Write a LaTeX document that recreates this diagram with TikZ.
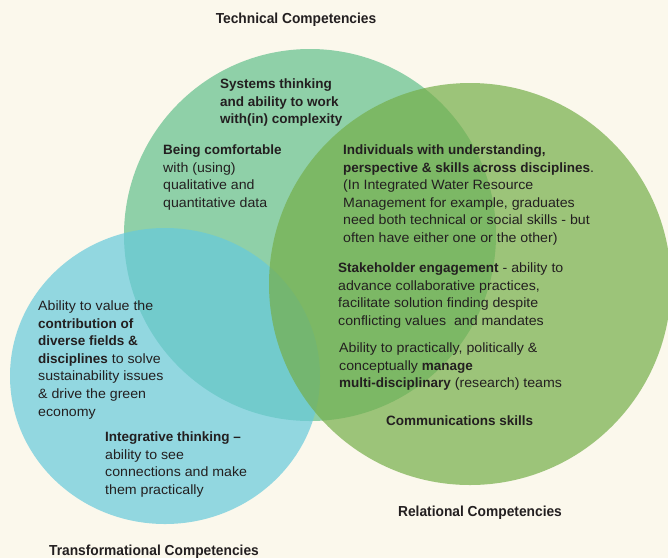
\documentclass[tikz,border=0pt]{standalone}
\usepackage{fontspec}
\setmainfont{Liberation Sans}[UprightFeatures={FakeStretch=1.05}]
\newfontfamily\headfont[FakeStretch=0.95]{Liberation Sans}

\definecolor{bgcream}{RGB}{251,248,236}
\definecolor{techgreen}{RGB}{143,208,168}
\definecolor{transblue}{RGB}{102,202,220}
\definecolor{relgreen}{RGB}{117,174,73}
\definecolor{inktext}{RGB}{35,31,32}

\tikzset{
  blurb/.style={anchor=north west, align=left, inner sep=0pt, text=inktext,
    font=\fontsize{13.5}{17.6}\selectfont},
  heading/.style={inner sep=0pt, text=inktext,
    font=\headfont\bfseries\fontsize{14.5}{16}\selectfont},
}

\begin{document}
\begin{tikzpicture}[x=1pt,y=-1pt]
\useasboundingbox (0,0) rectangle (668,558);
\clip (0,0) rectangle (668,558);
\fill[bgcream] (0,0) rectangle (668,558);

% the three competency circles
\fill[techgreen] (310,235) circle (186);
\fill[transblue, fill opacity=0.7] (165,376) ellipse (155 and 148);
\fill[relgreen, fill opacity=0.7] (470,284) circle (201);

% headings
\node[heading] (tech) at (296,20) {Technical Competencies};
\node[heading] (rel) at (480,513) {Relational Competencies};
\node[heading] (trans) at (154,552) {Transformational Competencies};

% competencies
\node[blurb, font=\bfseries\fontsize{13.5}{17.6}\selectfont] (systems) at (220,78.5)
  {Systems thinking\\and ability to work\\with(in) complexity};
\node[blurb] (comfort) at (163,144.5)
  {\textbf{Being comfortable}\\with (using)\\qualitative and\\quantitative data};
\node[blurb] (indiv) at (343,144.5)
  {\textbf{Individuals with understanding,}\\\textbf{perspective \& skills across disciplines}.\\(In Integrated Water Resource\\Management for example, graduates\\need both technical or social skills - but\\often have either one or the other)};
\node[blurb] (stake) at (338,262.5)
  {\textbf{Stakeholder engagement} - ability to\\advance collaborative practices,\\facilitate solution finding despite\\conflicting values~ and mandates};
\node[blurb] (manage) at (339,342.5)
  {Ability to practically, politically \&\\conceptually \textbf{manage}\\\textbf{multi-disciplinary} (research) teams};
\node[blurb, font=\bfseries\fontsize{13.5}{17.6}\selectfont] (comm) at (386,415.5)
  {Communications skills};
\node[blurb] (value) at (38,300.5)
  {Ability to value the\\\textbf{contribution of}\\\textbf{diverse fields \&}\\\textbf{disciplines} to solve\\sustainability issues\\\& drive the green\\economy};
\node[blurb] (integ) at (105,431.5)
  {\textbf{Integrative thinking --}\\ability to see\\connections and make\\them practically};
\end{tikzpicture}
\end{document}
